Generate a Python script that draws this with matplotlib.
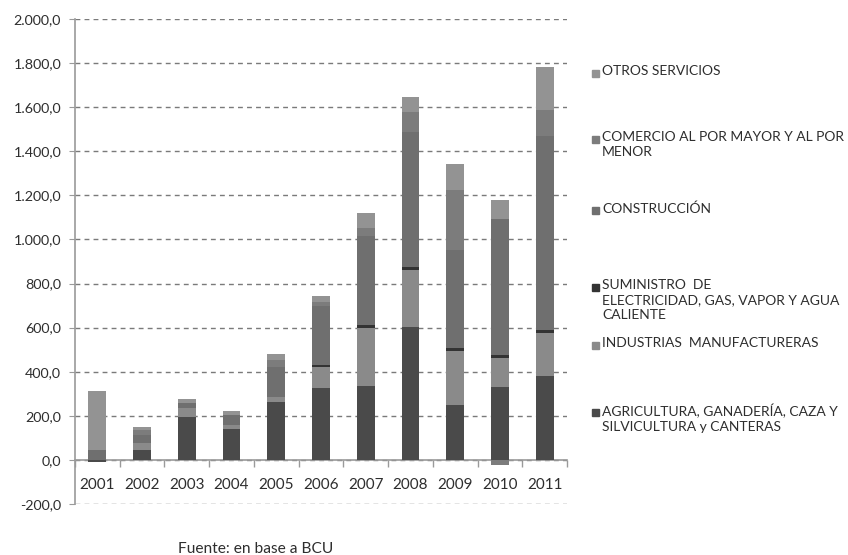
import numpy as np
import matplotlib
matplotlib.use("Agg")
import matplotlib.pyplot as plt
from matplotlib.patches import Rectangle
from matplotlib.ticker import FuncFormatter, MultipleLocator, FixedLocator

plt.rcParams['font.family'] = ['Lato', 'DejaVu Sans']

years = ['2001', '2002', '2003', '2004', '2005', '2006', '2007', '2008', '2009', '2010', '2011']

# values, bottom to top of each stack
agricultura = [-10, 45, 196, 140, 261, 325, 337, 601, 250, 329, 380]
industrias = [0, 30, 38, 18, 26, 97, 262, 260, 244, 135, 194]
suministro = [0, 0, 0, 0, 0, 8, 12, 15, 15, 12, 14]
construccion = [45, 38, 23, 46, 136, 267, 404, 611, 442, 619, 880]
comercio = [0, 23, 0, 0, 30, 20, 35, 90, 272, -22, 117]
otros = [267, 14, 19, 19, 27, 28, 68, 68, 118, 83, 197]

series = [
    ('AGRICULTURA, GANADERÍA, CAZA Y\nSILVICULTURA y CANTERAS', agricultura, '#4a4a4a'),
    ('INDUSTRIAS  MANUFACTURERAS', industrias, '#8a8a8a'),
    ('SUMINISTRO  DE\nELECTRICIDAD, GAS, VAPOR Y AGUA\nCALIENTE', suministro, '#333333'),
    ('CONSTRUCCIÓN', construccion, '#6f6f6f'),
    ('COMERCIO AL POR MAYOR Y AL POR\nMENOR', comercio, '#7c7c7c'),
    ('OTROS SERVICIOS', otros, '#939393'),
]

W, H = 848, 555
fig = plt.figure(figsize=(W / 100, H / 100), dpi=100)
ax = fig.add_axes([75 / W, 1 - 504 / H, (567 - 75) / W, (504 - 19) / H])

x = np.arange(len(years))
pos_bottom = np.zeros(len(years))
neg_bottom = np.zeros(len(years))
for name, vals, col in series:
    v = np.array(vals, dtype=float)
    bottom = np.where(v >= 0, pos_bottom, neg_bottom)
    ax.bar(x, v, width=0.4, bottom=bottom, color=col, linewidth=0, zorder=3)
    pos_bottom += np.where(v >= 0, v, 0)
    neg_bottom += np.where(v < 0, v, 0)

ax.set_xlim(-0.5, len(years) - 0.5)
ax.set_ylim(-200, 2000)
ax.yaxis.set_major_locator(MultipleLocator(200))
ax.yaxis.set_major_formatter(FuncFormatter(
    lambda v, p: '{:,.1f}'.format(v).replace(',', 'X').replace('.', ',').replace('X', '.')))
ax.grid(axis='y', color='#7a7a7a', linestyle=(0, (3.5, 3)), linewidth=1.0, zorder=0)

for s in ['top', 'right']:
    ax.spines[s].set_visible(False)
ax.spines['left'].set_color('#9a9a9a')
ax.spines['left'].set_linewidth(1.2)
ax.spines['bottom'].set_position(('data', 0))
ax.spines['bottom'].set_color('#9a9a9a')
ax.spines['bottom'].set_linewidth(1.2)

ax.set_xticks(x)
ax.set_xticklabels(years)
ax.xaxis.set_minor_locator(FixedLocator(np.arange(-0.5, len(years), 1)))
ax.tick_params(axis='x', which='major', length=0, pad=13, labelsize=11, labelcolor='#2e2e2e')
ax.tick_params(axis='x', which='minor', length=5, color='#9a9a9a', width=1)
ax.tick_params(axis='y', length=4, color='#9a9a9a', labelsize=10.3, labelcolor='#2e2e2e', pad=6)

# legend drawn by hand, Excel style slots (first line centre, px from top)
slot_y = [412, 345, 287, 210, 139, 73]
for (name, vals, col), yy in zip(series, slot_y):
    fig.patches.append(Rectangle((592 / W, 1 - (yy + 4) / H), 7 / W, 7 / H,
                                 transform=fig.transFigure, color=col, figure=fig))
    fig.text(602 / W, 1 - (yy - 8) / H, name, fontsize=10, color='#2e2e2e',
             va='top', ha='left', linespacing=1.3)

fig.text(178 / W, 1 - 549 / H, 'Fuente: en base a BCU', fontsize=11.2, color='#2e2e2e',
         va='center', ha='left')

fig.savefig('out.png', dpi=100)
